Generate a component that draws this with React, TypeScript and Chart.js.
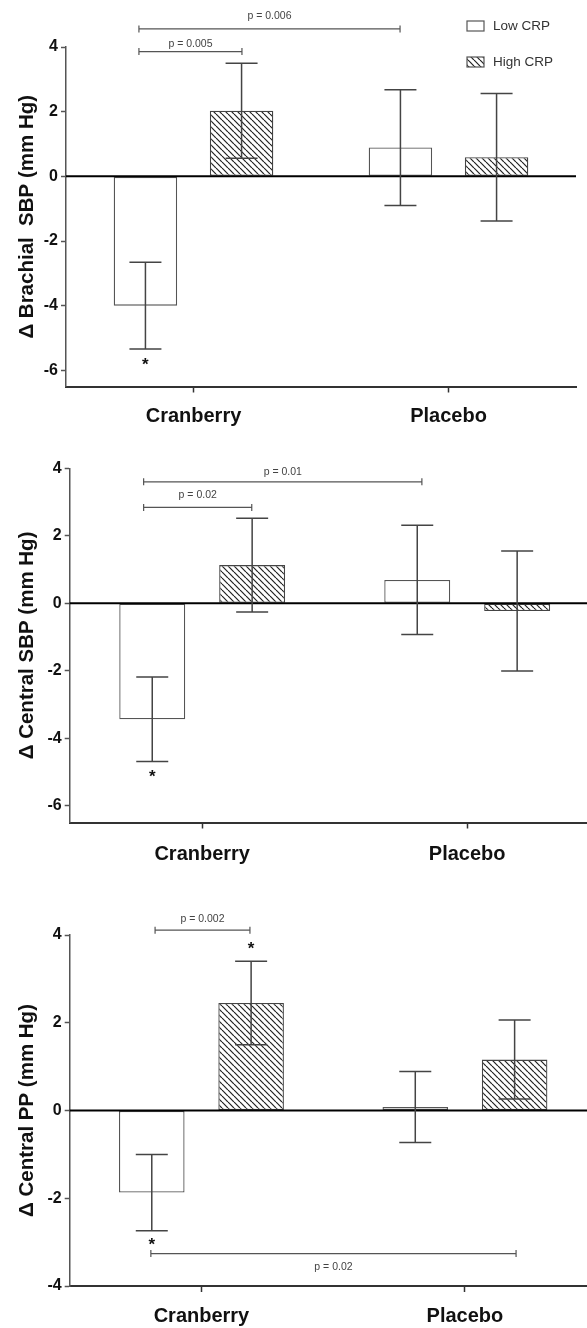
import React, { useEffect, useRef } from "react";
import { Chart, registerables } from "chart.js";

Chart.register(...registerables);

// ---------- data ----------
const categories = ["Cranberry", "Placebo"];
const seriesLabels = ["Low CRP", "High CRP"];

const brachialLow = [-4.0, 0.89];
const brachialLowSE = [1.34, 1.79];
const brachialHigh = [2.03, 0.59];
const brachialHighSE = [1.47, 1.97];

const centralSbpLow = [-3.44, 0.69];
const centralSbpLowSE = [1.25, 1.62];
const centralSbpHigh = [1.13, -0.23];
const centralSbpHighSE = [1.39, 1.78];

const centralPpLow = [-1.87, 0.08];
const centralPpLowSE = [0.87, 0.81];
const centralPpHigh = [2.45, 1.16];
const centralPpHighSE = [0.95, 0.9];

const sbpTicks = [-6, -4, -2, 0, 2, 4];
const ppTicks = [-4, -2, 0, 2, 4];

// brackets: x in category units (0 = Cranberry, 1 = Placebo), y in mm Hg
const brachialBrackets = [
  { label: "p = 0.006", x1: -0.214, x2: 0.81, y: 4.56, labelY: 4.95 },
  { label: "p = 0.005", x1: -0.214, x2: 0.19, y: 3.86, labelY: 4.1 },
];
const centralSbpBrackets = [
  { label: "p = 0.01", x1: -0.221, x2: 0.829, y: 3.6, labelY: 3.9 },
  { label: "p = 0.02", x1: -0.221, x2: 0.187, y: 2.84, labelY: 3.21 },
];
const centralPpBrackets = [
  { label: "p = 0.002", x1: -0.176, x2: 0.184, y: 4.11, labelY: 4.36 },
  { label: "p = 0.02", x1: -0.192, x2: 1.194, y: -3.26, labelY: -3.56 },
];

const brachialStars = [{ series: 0, index: 0, y: -5.73 }];
const centralSbpStars = [{ series: 0, index: 0, y: -5.04 }];
const centralPpStars = [
  { series: 0, index: 0, y: -2.99 },
  { series: 1, index: 0, y: 3.75 },
];

// ---------- layout / style ----------
const FONT = '"Liberation Sans", Arial, Helvetica, sans-serif';

const panels = [
  {
    title: "Δ Brachial  SBP (mm Hg)",
    low: brachialLow, lowSE: brachialLowSE, high: brachialHigh, highSE: brachialHighSE,
    yMin: -6.5, yMax: 4, yTicks: sbpTicks,
    brackets: brachialBrackets, stars: brachialStars, legend: true,
    top: 0, w: 587, h: 440, padTop: 47, padRight: 11, yW: 66, xH: 53.5, xPad: 11.5,
  },
  {
    title: "Δ Central SBP (mm Hg)",
    low: centralSbpLow, lowSE: centralSbpLowSE, high: centralSbpHigh, highSE: centralSbpHighSE,
    yMin: -6.5, yMax: 4, yTicks: sbpTicks,
    brackets: centralSbpBrackets, stars: centralSbpStars, legend: false,
    top: 440, w: 610, h: 440, padTop: 28.3, padRight: 10.3, yW: 69.7, xH: 57.5, xPad: 14,
  },
  {
    title: "Δ Central PP (mm Hg)",
    low: centralPpLow, lowSE: centralPpLowSE, high: centralPpHigh, highSE: centralPpHighSE,
    yMin: -4, yMax: 4, yTicks: ppTicks,
    brackets: centralPpBrackets, stars: centralPpStars, legend: false,
    top: 880, w: 610, h: 448, padTop: 55, padRight: 13.3, yW: 69.7, xH: 42, xPad: 12.4,
  },
];

function makeHatch(): CanvasPattern | string {
  const s = 6;
  const c = document.createElement("canvas");
  c.width = s;
  c.height = s;
  const g = c.getContext("2d");
  if (!g) return "#fff";
  g.fillStyle = "#fff";
  g.fillRect(0, 0, s, s);
  g.strokeStyle = "#222";
  g.lineWidth = 1.2;
  for (const k of [-1, 0, 1]) {
    g.beginPath();
    g.moveTo(k * s, 0);
    g.lineTo(k * s + s, s);
    g.stroke();
  }
  return g.createPattern(c, "repeat") || "#fff";
}

function decoPlugin(p: any, hatch: any) {
  return {
    id: "deco",
    afterDatasetsDraw(chart: any) {
      const ctx = chart.ctx as CanvasRenderingContext2D;
      const xs = chart.scales.x;
      const ys = chart.scales.y;
      const area = chart.chartArea;
      ctx.save();

      // zero line
      const y0 = ys.getPixelForValue(0);
      ctx.strokeStyle = "#000";
      ctx.lineWidth = 2;
      ctx.beginPath();
      ctx.moveTo(area.left, y0);
      ctx.lineTo(area.right, y0);
      ctx.stroke();

      // error bars
      const vals = [p.low, p.high];
      const errs = [p.lowSE, p.highSE];
      ctx.strokeStyle = "#444";
      ctx.lineWidth = 1.5;
      for (let d = 0; d < 2; d++) {
        const meta = chart.getDatasetMeta(d);
        meta.data.forEach((bar: any, i: number) => {
          const x = bar.x;
          const t = ys.getPixelForValue(vals[d][i] + errs[d][i]);
          const b = ys.getPixelForValue(vals[d][i] - errs[d][i]);
          const cw = 16;
          ctx.beginPath();
          ctx.moveTo(x, t);
          ctx.lineTo(x, b);
          ctx.moveTo(x - cw, t);
          ctx.lineTo(x + cw, t);
          ctx.moveTo(x - cw, b);
          ctx.lineTo(x + cw, b);
          ctx.stroke();
        });
      }

      // stars
      ctx.fillStyle = "#111";
      ctx.font = `bold 17px ${FONT}`;
      ctx.textAlign = "center";
      ctx.textBaseline = "alphabetic";
      const m = ctx.measureText("*");
      const off = (m.actualBoundingBoxAscent - m.actualBoundingBoxDescent) / 2;
      p.stars.forEach((s: any) => {
        const bar = chart.getDatasetMeta(s.series).data[s.index];
        ctx.fillText("*", bar.x, ys.getPixelForValue(s.y) + off);
      });

      // significance brackets
      const c0 = xs.getPixelForValue(0);
      const step = xs.getPixelForValue(1) - c0;
      p.brackets.forEach((br: any) => {
        const xa = c0 + br.x1 * step;
        const xb = c0 + br.x2 * step;
        const yy = ys.getPixelForValue(br.y);
        ctx.strokeStyle = "#555";
        ctx.lineWidth = 1.2;
        ctx.beginPath();
        ctx.moveTo(xa, yy);
        ctx.lineTo(xb, yy);
        ctx.moveTo(xa, yy - 3.5);
        ctx.lineTo(xa, yy + 3.5);
        ctx.moveTo(xb, yy - 3.5);
        ctx.lineTo(xb, yy + 3.5);
        ctx.stroke();
        ctx.fillStyle = "#444";
        ctx.font = `10.5px ${FONT}`;
        ctx.textAlign = "center";
        ctx.textBaseline = "middle";
        ctx.fillText(br.label, (xa + xb) / 2, ys.getPixelForValue(br.labelY));
      });

      // legend
      if (p.legend) {
        const rows = [26, 62];
        chart.data.datasets.forEach((ds: any, i: number) => {
          const cy = rows[i];
          const bx = 467;
          ctx.fillStyle = i === 0 ? "#fff" : hatch;
          ctx.fillRect(bx, cy - 5, 17, 10);
          ctx.strokeStyle = "#555";
          ctx.lineWidth = 1.2;
          ctx.strokeRect(bx, cy - 5, 17, 10);
          ctx.fillStyle = "#333";
          ctx.font = `13.5px ${FONT}`;
          ctx.textAlign = "left";
          ctx.textBaseline = "middle";
          ctx.fillText(ds.label, 493, cy);
        });
      }
      ctx.restore();
    },
  };
}

function Panel({ p }: { p: any }) {
  const ref = useRef<HTMLCanvasElement>(null);
  useEffect(() => {
    if (!ref.current) return;
    const hatch = makeHatch();
    const chart = new Chart(ref.current, {
      type: "bar",
      data: {
        labels: categories,
        datasets: [
          {
            label: seriesLabels[0],
            data: p.low,
            backgroundColor: "#fff",
            borderColor: "#555",
            borderWidth: 1.3,
            borderSkipped: false,
            categoryPercentage: 0.754,
            barPercentage: 0.66,
          },
          {
            label: seriesLabels[1],
            data: p.high,
            backgroundColor: hatch as any,
            borderColor: "#444",
            borderWidth: 1.3,
            borderSkipped: false,
            categoryPercentage: 0.754,
            barPercentage: 0.66,
          },
        ],
      },
      options: {
        responsive: false,
        animation: false,
        devicePixelRatio: 1,
        layout: { padding: { top: p.padTop, left: 0, right: p.padRight, bottom: 0 } },
        plugins: { legend: { display: false }, tooltip: { enabled: false } },
        scales: {
          x: {
            type: "category",
            offset: true,
            grid: {
              display: true,
              drawOnChartArea: false,
              offset: false,
              tickLength: 6,
              tickColor: "#333",
              tickWidth: 1.5,
            },
            border: { color: "#333", width: 2 },
            ticks: {
              font: { family: FONT, size: 20, weight: "bold" },
              color: "#111",
              padding: p.xPad,
            },
            afterFit: (s: any) => {
              s.height = p.xH;
            },
          },
          y: {
            type: "linear",
            min: p.yMin,
            max: p.yMax,
            afterBuildTicks: (s: any) => {
              s.ticks = p.yTicks.map((v: number) => ({ value: v }));
            },
            grid: {
              drawOnChartArea: false,
              tickLength: 5,
              tickColor: "#555",
              tickWidth: 1.5,
            },
            border: { color: "#555", width: 1.5 },
            ticks: {
              font: { family: FONT, size: 16, weight: "bold" },
              color: "#111",
              padding: 3,
            },
            title: {
              display: true,
              text: p.title,
              font: { family: FONT, size: 20.5, weight: "bold" },
              color: "#111",
              padding: { top: 15, bottom: 0 },
            },
            afterFit: (s: any) => {
              s.width = p.yW;
            },
          },
        },
      } as any,
      plugins: [decoPlugin(p, hatch) as any],
    });
    return () => chart.destroy();
  }, []);
  return (
    <canvas
      ref={ref}
      width={p.w}
      height={p.h}
      style={{ position: "absolute", left: 0, top: p.top, width: p.w, height: p.h }}
    />
  );
}

export default function App() {
  return (
    <div
      style={{
        position: "absolute",
        left: 0,
        top: 0,
        width: 587,
        height: 1328,
        overflow: "hidden",
        background: "#fff",
      }}
    >
      {panels.map((p, i) => (
        <Panel key={i} p={p} />
      ))}
    </div>
  );
}
